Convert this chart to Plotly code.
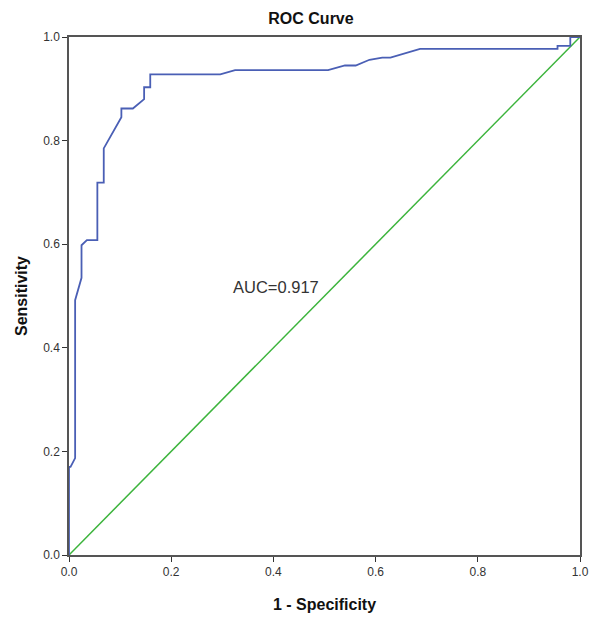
import plotly.graph_objects as go

# ROC curve points (1 - specificity, sensitivity)
fpr = [0.0, 0.0, 0.003, 0.012, 0.012, 0.0245, 0.0245, 0.035, 0.0555, 0.0555, 0.068, 0.068,
       0.1025, 0.1025, 0.125, 0.147, 0.147, 0.159, 0.159, 0.296, 0.325, 0.507, 0.540,
       0.561, 0.588, 0.613, 0.629, 0.687, 0.956, 0.956, 0.981, 0.981, 1.0]
tpr = [0.0, 0.17, 0.17, 0.187, 0.492, 0.535, 0.598, 0.608, 0.608, 0.719, 0.719, 0.785,
       0.845, 0.862, 0.862, 0.880, 0.903, 0.903, 0.928, 0.928, 0.936, 0.936, 0.945,
       0.945, 0.956, 0.960, 0.960, 0.977, 0.977, 0.983, 0.983, 1.0, 1.0]
ref_x = [0.0, 1.0]
ref_y = [0.0, 1.0]
tick_vals = [0.0, 0.2, 0.4, 0.6, 0.8, 1.0]
tick_text = ["0.0", "0.2", "0.4", "0.6", "0.8", "1.0"]
auc_label = "AUC=0.917"

fig = go.Figure()
fig.add_trace(go.Scatter(x=ref_x, y=ref_y, mode="lines",
                         line=dict(color="#3cb43c", width=1.5), showlegend=False))
fig.add_trace(go.Scatter(x=fpr, y=tpr, mode="lines",
                         line=dict(color="#4a5fb5", width=1.8), showlegend=False))

fig.add_annotation(x=0.406, y=0.517, text=auc_label, showarrow=False,
                   font=dict(family="Liberation Sans, Arial", size=16.5, color="#333333"))

axis_common = dict(
    range=[0, 1], tickvals=tick_vals, ticktext=tick_text,
    showgrid=False, zeroline=False, showline=True, linecolor="#555555", linewidth=1.5,
    mirror=True, ticks="outside", ticklen=5, tickcolor="#333333", tickwidth=1.2,
    tickfont=dict(family="Liberation Sans, Arial", size=12, color="#333333"),
)

fig.update_layout(
    width=600, height=623,
    margin=dict(l=55, r=28, t=29, b=76),
    paper_bgcolor="white", plot_bgcolor="white",
    title=dict(text="<b>ROC Curve</b>", x=0.505, xanchor="center", y=0.984, yanchor="middle",
               font=dict(family="Liberation Sans, Arial", size=16, color="#111111")),
    xaxis=dict(**axis_common,
               title=dict(text="<b>1 - Specificity</b>", standoff=21,
                          font=dict(family="Liberation Sans, Arial", size=16, color="#111111"))),
    yaxis=dict(**axis_common,
               title=dict(text="<b>Sensitivity</b>", standoff=12,
                          font=dict(family="Liberation Sans, Arial", size=16, color="#111111"))),
)

fig.write_html("out.html")
